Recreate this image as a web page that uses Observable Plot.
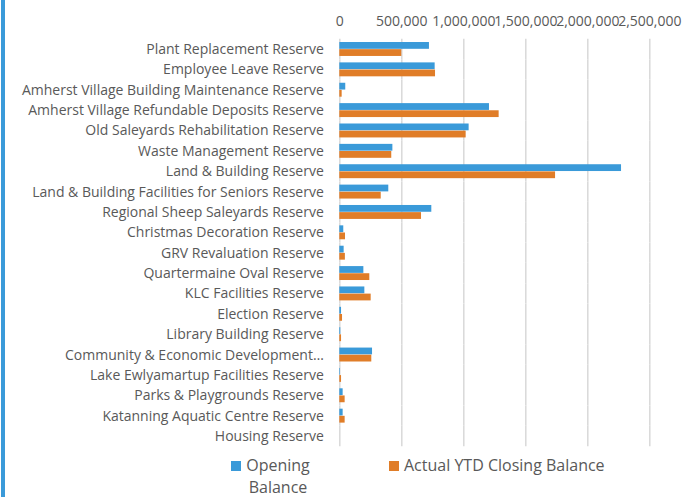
<!DOCTYPE html>
<html>
<head>
<meta charset="utf-8">
<script src="https://cdn.jsdelivr.net/npm/d3@7"></script>
<script src="https://cdn.jsdelivr.net/npm/@observablehq/plot@0.6"></script>
<style>
  html, body { margin: 0; padding: 0; background: #fff; }
  #wrap { position: relative; width: 698px; height: 497px; overflow: hidden; font-family: "Open Sans", sans-serif; }
  #edge { position: absolute; left: 1px; top: 0; width: 4px; height: 497px; background: #3a9ad9; }
  #legend { position: relative; height: 47px; color: #595959; font-size: 16px; }
  .sw { position: absolute; width: 10px; height: 10px; top: 11px; }
  .lt { position: absolute; top: 4px; line-height: 22px; white-space: normal; }
</style>
</head>
<body>
<div id="wrap">
  <div id="chart"></div>
  <div id="legend"></div>
  <div id="edge"></div>
</div>
<script>
const categories = [
  "Plant Replacement Reserve",
  "Employee Leave Reserve",
  "Amherst Village Building Maintenance Reserve",
  "Amherst Village Refundable Deposits Reserve",
  "Old Saleyards Rehabilitation Reserve",
  "Waste Management Reserve",
  "Land & Building Reserve",
  "Land & Building Facilities for Seniors Reserve",
  "Regional Sheep Saleyards Reserve",
  "Christmas Decoration Reserve",
  "GRV Revaluation Reserve",
  "Quartermaine Oval Reserve",
  "KLC Facilities Reserve",
  "Election Reserve",
  "Library Building Reserve",
  "Community & Economic Development…",
  "Lake Ewlyamartup Facilities Reserve",
  "Parks & Playgrounds Reserve",
  "Katanning Aquatic Centre Reserve",
  "Housing Reserve"
];
const openingBalance = [723000, 769000, 48000, 1207000, 1043000, 428000, 2272000, 395000, 742000, 32000, 35000, 194000, 202000, 14000, 8000, 264000, 5000, 27000, 27000, 0];
const closingBalance = [500000, 772000, 19000, 1285000, 1019000, 419000, 1740000, 334000, 659000, 46000, 45000, 242000, 253000, 22000, 14000, 258000, 14000, 43000, 43000, 0];
const seriesNames = ["Opening Balance", "Actual YTD Closing Balance"];
const seriesColors = ["#3a9ad9", "#e07d28"];
const xTicks = [0, 500000, 1000000, 1500000, 2000000, 2500000];

const data = categories.flatMap((c, i) => [
  {category: c, series: seriesNames[0], value: openingBalance[i]},
  {category: c, series: seriesNames[1], value: closingBalance[i]}
]);

const chart = Plot.plot({
  width: 698,
  height: 450,
  marginTop: 38.8,
  marginBottom: 3.8,
  marginLeft: 339.3,
  marginRight: 48.7,
  style: {fontFamily: "Open Sans", fontSize: "14px", color: "#595959", background: "white", overflow: "visible"},
  x: {domain: [0, 2500000], axis: "top", ticks: xTicks, tickFormat: d3.format(","), tickSize: 0, tickPadding: 13, label: null},
  fy: {domain: categories, padding: 0, round: false, label: null, tickSize: 0, tickPadding: 16},
  y: {domain: seriesNames, axis: null, paddingInner: 0.05, paddingOuter: 0.45, round: false},
  color: {domain: seriesNames, range: seriesColors},
  marks: [
    Plot.ruleX(xTicks, {stroke: "#d9d9d9", strokeWidth: 1.5}),
    Plot.barX(data, {fy: "category", y: "series", x: "value", fill: "series"})
  ]
});
document.getElementById("chart").appendChild(chart);

const legend = document.getElementById("legend");
const legendPos = [{sw: 231, tx: 243, w: 70, align: "center"}, {sw: 389, tx: 404, w: 280, align: "left"}];
seriesNames.forEach((s, i) => {
  const sw = document.createElement("div");
  sw.className = "sw";
  sw.style.left = legendPos[i].sw + "px";
  sw.style.background = seriesColors[i];
  legend.appendChild(sw);
  const t = document.createElement("div");
  t.className = "lt";
  t.style.left = legendPos[i].tx + "px";
  t.style.width = legendPos[i].w + "px";
  t.style.textAlign = legendPos[i].align;
  t.textContent = s;
  legend.appendChild(t);
});
</script>
</body>
</html>
